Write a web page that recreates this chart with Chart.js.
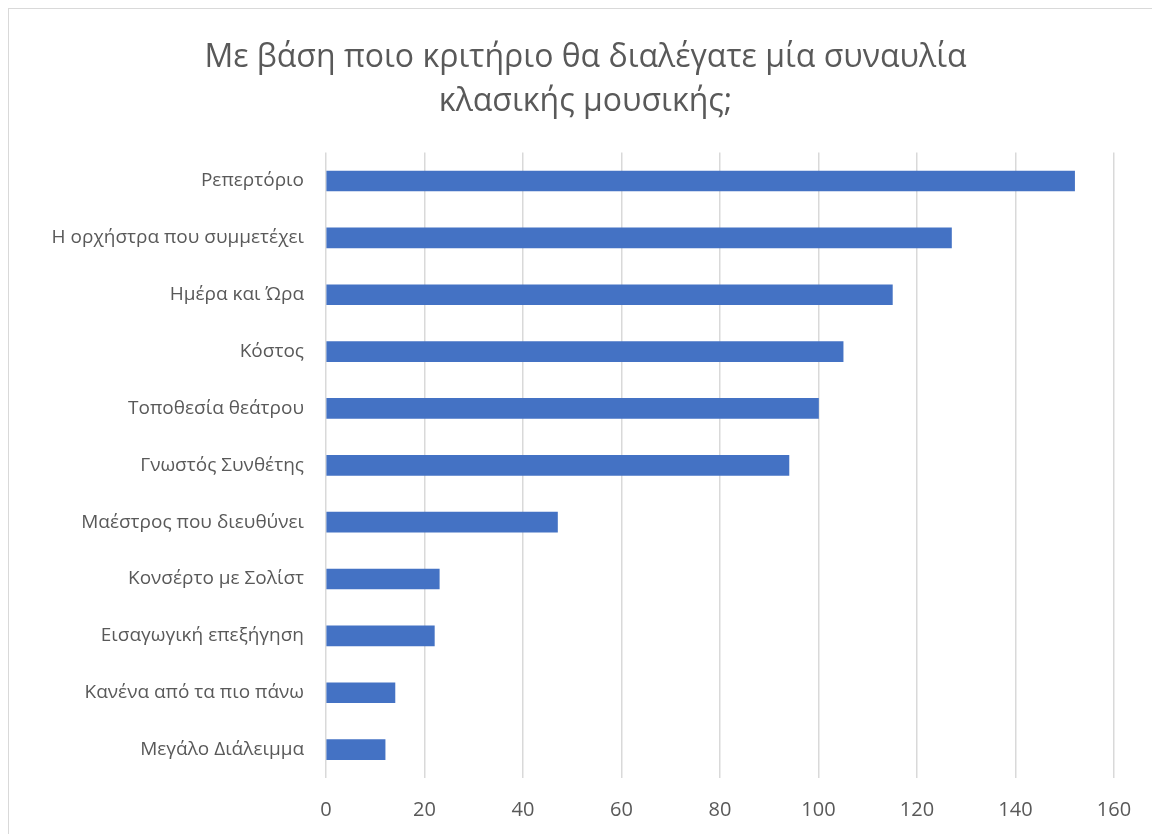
<!DOCTYPE html>
<html>
<head>
<meta charset="utf-8">
<script src="https://cdn.jsdelivr.net/npm/chart.js@4/dist/chart.umd.min.js"></script>
<style>
  html, body { margin: 0; padding: 0; background: #fff; overflow: hidden; }
  #wrap { position: relative; width: 1152px; height: 834px; overflow: hidden; }
  #frame { position: absolute; left: 8px; top: 8px; width: 1300px; height: 1000px; border: 1px solid #d9d9d9; }
  #chartBox { position: absolute; left: 0; top: 0; width: 1171px; height: 834px; }
</style>
</head>
<body>
<div id="wrap">
  <div id="frame"></div>
  <div id="chartBox"><canvas id="barChart"></canvas></div>
</div>
<script>
// survey answers, top to bottom
const criteria = [
  "Ρεπερτόριο",
  "Η ορχήστρα που συμμετέχει",
  "Ημέρα και Ώρα",
  "Κόστος",
  "Τοποθεσία θεάτρου",
  "Γνωστός Συνθέτης",
  "Μαέστρος που διευθύνει",
  "Κονσέρτο με Σολίστ",
  "Εισαγωγική επεξήγηση",
  "Κανένα από τα πιο πάνω",
  "Μεγάλο Διάλειμμα"
];
const responses = [152, 127, 115, 105, 100, 94, 47, 23, 22, 14, 12];
const xTicks = [0, 20, 40, 60, 80, 100, 120, 140, 160];

const fontFamily = "'Open Sans', 'Noto Sans', sans-serif";
const textGray = "#595959";

const ctx = document.getElementById("barChart");

new Chart(ctx, {
  type: "bar",
  data: {
    labels: criteria,
    datasets: [
      {
        label: "Απαντήσεις",
        data: responses,
        backgroundColor: "#4472C4",
        borderWidth: 0,
        barThickness: 20,
      },
    ],
  },
  options: {
    indexAxis: "y",
    responsive: true,
    maintainAspectRatio: false,
    animation: false,
    layout: { padding: 0 },
    scales: {
      x: {
        min: 0,
        max: 160,
        afterBuildTicks: (scale) => {
          scale.ticks = xTicks.map((v) => ({ value: v }));
        },
        afterFit: (scale) => {
          scale.height = 56; // space under the plot for the numbers
        },
        ticks: {
          color: textGray,
          padding: 20,
          font: { family: fontFamily, size: 20 },
        },
        grid: {
          color: "#d9d9d9",
          lineWidth: 1.5,
          drawTicks: false,
        },
        border: { display: false },
      },
      y: {
        afterFit: (scale) => {
          scale.width = 326; // left edge of the plot area
        },
        ticks: {
          color: textGray,
          padding: 22,
          font: { family: fontFamily, size: 19 },
        },
        grid: { display: false, drawTicks: false },
        border: { display: false },
      },
      // empty right-hand margin so the title stays centred on the whole frame
      yRight: {
        position: "right",
        type: "category",
        labels: criteria,
        afterFit: (scale) => {
          scale.width = 57;
        },
        ticks: { display: false },
        grid: { display: false, drawTicks: false },
        border: { display: false },
      },
    },
    plugins: {
      legend: { display: false },
      tooltip: { enabled: false },
      title: {
        display: true,
        text: ["Με βάση ποιο κριτήριο θα διαλέγατε μία συναυλία", "κλασικής μουσικής;"],
        color: textGray,
        font: { family: fontFamily, size: 32, weight: "normal", lineHeight: 1.4 },
        padding: { top: 35, bottom: 28 },
      },
    },
  },
});
</script>
</body>
</html>
